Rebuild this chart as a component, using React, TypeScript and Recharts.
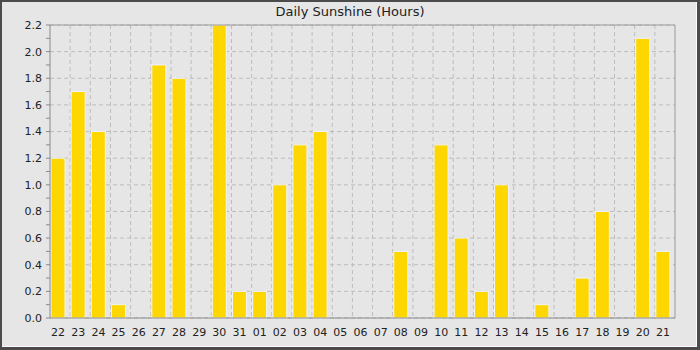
import { BarChart, Bar, XAxis, YAxis, CartesianGrid } from "recharts";

// Daily sunshine, one bar per day over a month (22 → 21).

const DAYS = [
  "22", "23", "24", "25", "26", "27", "28", "29", "30", "31",
  "01", "02", "03", "04", "05", "06", "07", "08", "09", "10",
  "11", "12", "13", "14", "15", "16", "17", "18", "19", "20", "21",
];
const SUNSHINE_HOURS = [
  1.2, 1.7, 1.4, 0.1, 0, 1.9, 1.8, 0, 2.2, 0.2,
  0.2, 1.0, 1.3, 1.4, 0, 0, 0, 0.5, 0, 1.3,
  0.6, 0.2, 1.0, 0, 0.1, 0, 0.3, 0.8, 0, 2.1, 0.5,
];
const Y_TICKS = [
  0, 0.1, 0.2, 0.3, 0.4, 0.5, 0.6, 0.7, 0.8, 0.9, 1.0, 1.1,
  1.2, 1.3, 1.4, 1.5, 1.6, 1.7, 1.8, 1.9, 2.0, 2.1, 2.2,
];
const Y_MAJOR = [0, 0.2, 0.4, 0.6, 0.8, 1.0, 1.2, 1.4, 1.6, 1.8, 2.0, 2.2];

const data = DAYS.map((day, i) => ({ day, hours: SUNSHINE_HOURS[i] }));

const FONT = "'DejaVu Sans', sans-serif";

export default function App() {
  return (
    <div style={{ position: "fixed", left: 0, top: 0, width: 700, height: 350, background: "#4b4b4b", fontFamily: FONT }}>
      <div
        style={{
          position: "absolute", left: 2, top: 2, right: 3, bottom: 3,
          background: "#e6e6e6", borderRight: "1px solid #fff", borderBottom: "1px solid #fff",
        }}
      />
      <div
        style={{
          position: "absolute", left: 0, top: 4, width: 700, textAlign: "center",
          fontSize: 13, color: "#222", lineHeight: "16px",
        }}
      >
        Daily Sunshine (Hours)
      </div>
      <div style={{ position: "absolute", left: 0, top: 0 }}>
        <BarChart width={700} height={350} data={data} margin={{ top: 0, right: 0, bottom: 0, left: 0 }}>
          <CartesianGrid
            stroke="#bcbcbc"
            strokeDasharray="4 3"
            horizontalValues={Y_MAJOR}
            verticalCoordinatesGenerator={({ offset }: { offset: { left: number; width: number } }) =>
              DAYS.slice(1).map((_, i) => offset.left + ((i + 1) * offset.width) / DAYS.length)
            }
          />
          <XAxis
            dataKey="day" height={32} interval={0} padding={{ left: -2, right: 2 }}
            tickLine={false} tickSize={4} tickMargin={6}
            stroke="#8a8a8a" tick={{ fill: "#222", fontSize: 11, fontFamily: FONT }}
          />
          <XAxis xAxisId="top" orientation="top" dataKey="day" height={25} tick={false} tickLine={false} stroke="#9a9a9a" />
          <YAxis
            type="number" width={50} domain={[0, 2.2]} ticks={Y_TICKS} interval={0}
            tickSize={4} tickMargin={4} stroke="#8a8a8a"
            tickFormatter={(v: number) => (Math.round(v * 10) % 2 === 0 ? v.toFixed(1) : "")}
            tick={{ fill: "#222", fontSize: 11, fontFamily: FONT }}
          />
          <YAxis yAxisId="right" orientation="right" width={25} domain={[0, 2.2]} tick={false} tickLine={false} stroke="#9a9a9a" />
          <Bar dataKey="hours" fill="#ffd700" stroke="#eef3fb" strokeWidth={1} barSize={14} isAnimationActive={false} />
        </BarChart>
      </div>
    </div>
  );
}
